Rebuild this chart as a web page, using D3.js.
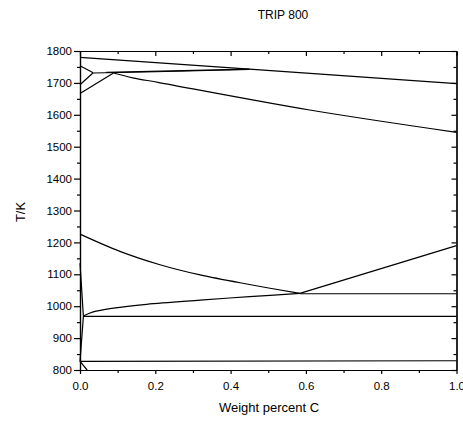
<!DOCTYPE html>
<head>
<meta charset="utf-8">
<title>TRIP 800</title>
<style>
body { margin: 0; font-family: "Liberation Sans", Arial, sans-serif; background: #fff; }
.axis text { font-family: "Liberation Sans", Arial, sans-serif; font-size: 11.5px; fill: #000; }
.axis path, .axis line { stroke: #000; stroke-width: 1.2; }
.phase { fill: none; stroke: #000; stroke-width: 1.2; }
</style>
<script src="https://d3js.org/d3.v7.min.js"></script>
</head>
<body>
<script>
// tick labels
var xTicks = [0, 0.2, 0.4, 0.6, 0.8, 1.0];
var xMinor = [0.1, 0.3, 0.5, 0.7, 0.9];
var yTicks = [800, 900, 1000, 1100, 1200, 1300, 1400, 1500, 1600, 1700, 1800];
var yMinor = [850, 950, 1050, 1150, 1250, 1350, 1450, 1550, 1650, 1750];

// phase boundaries, [wt% C, T/K]
var liquidus = [[0, 1780], [0.45, 1743], [1.0, 1698]];
var deltaUpper = [[0, 1754], [0.035, 1732]];
var deltaLower = [[0, 1694], [0.035, 1732]];
var gammaStart = [[0, 1667], [0.089, 1731]];
var gammaSolidus = [[0.089, 1731], [0.14, 1716], [0.21, 1701], [0.61, 1615], [1.0, 1545]];
var peritecticA = [[0.035, 1731], [0.2, 1735], [0.45, 1742]];
var peritecticB = [[0.07, 1733], [0.45, 1743]];
var a3 = [[0, 1226], [0.106, 1172], [0.2125, 1130], [0.319, 1098], [0.45, 1068], [0.584, 1040]];
var alphaGamma = [[0.009, 969], [0.035, 982], [0.089, 994], [0.177, 1006], [0.319, 1019], [0.45, 1030], [0.584, 1040]];
var acm = [[0.584, 1040], [1.0, 1190]];
var eutectoid = [[0.584, 1039], [1.0, 1039]];
var line968 = [[0.009, 968], [1.0, 968]];
var line828 = [[0, 827], [1.0, 829]];
var leftEdge = [[0, 1135], [0.009, 968], [0, 827], [0.019, 800]];

var curved = [gammaSolidus, a3, alphaGamma];
var straight = [liquidus, deltaUpper, deltaLower, gammaStart, peritecticA, peritecticB, acm, eutectoid, line968, line828, leftEdge];

var width = 463, height = 421;
var margin = { top: 51, right: 6.5, bottom: 51, left: 80 };
var w = width - margin.left - margin.right,
    h = height - margin.top - margin.bottom;

var svg = d3.select("body").append("svg")
    .attr("width", width)
    .attr("height", height);

var g = svg.append("g")
    .attr("transform", "translate(" + margin.left + "," + margin.top + ")");

var x = d3.scaleLinear().domain([0, 1]).range([0, w]);
var y = d3.scaleLinear().domain([800, 1800]).range([h, 0]);

// minor ticks
g.append("g").attr("class", "axis")
    .attr("transform", "translate(0," + h + ")")
    .call(d3.axisBottom(x).tickValues(xMinor).tickSize(3).tickFormat("").tickSizeOuter(0));
g.append("g").attr("class", "axis")
    .call(d3.axisBottom(x).tickValues(xMinor).tickSize(3).tickFormat("").tickSizeOuter(0));
g.append("g").attr("class", "axis")
    .call(d3.axisLeft(y).tickValues(yMinor).tickSize(3).tickFormat("").tickSizeOuter(0));
g.append("g").attr("class", "axis")
    .attr("transform", "translate(" + w + ",0)")
    .call(d3.axisLeft(y).tickValues(yMinor).tickSize(3).tickFormat("").tickSizeOuter(0));

// major ticks
g.append("g").attr("class", "axis")
    .attr("transform", "translate(0," + h + ")")
    .call(d3.axisBottom(x).tickValues(xTicks).tickSize(4).tickPadding(8).tickFormat(d3.format(".1f")).tickSizeOuter(0));
g.append("g").attr("class", "axis")
    .call(d3.axisBottom(x).tickValues(xTicks).tickSize(5).tickFormat("").tickSizeOuter(0));
g.append("g").attr("class", "axis")
    .call(d3.axisLeft(y).tickValues(yTicks).tickSize(6).tickPadding(2).tickFormat(d3.format("d")).tickSizeOuter(0));
g.append("g").attr("class", "axis")
    .attr("transform", "translate(" + w + ",0)")
    .call(d3.axisLeft(y).tickValues(yTicks).tickSize(5).tickFormat("").tickSizeOuter(0));

// phase boundary lines
var line = d3.line().x(function(d) { return x(d[0]); }).y(function(d) { return y(d[1]); });
var curve = d3.line().curve(d3.curveCatmullRom.alpha(0.5)).x(function(d) { return x(d[0]); }).y(function(d) { return y(d[1]); });

g.selectAll(".straight").data(straight).enter().append("path")
    .attr("class", "phase").attr("d", line);
g.selectAll(".curved").data(curved).enter().append("path")
    .attr("class", "phase").attr("d", curve);

// titles
svg.append("text").attr("x", 283).attr("y", 19)
    .attr("text-anchor", "middle").style("font-size", "12px").text("TRIP 800");
svg.append("text").attr("x", 269).attr("y", 412)
    .attr("text-anchor", "middle").style("font-size", "13px").text("Weight percent C");
svg.append("text").attr("transform", "translate(25,212) rotate(-90)")
    .attr("text-anchor", "middle").style("font-size", "13px").text("T/K");
</script>
</body>
